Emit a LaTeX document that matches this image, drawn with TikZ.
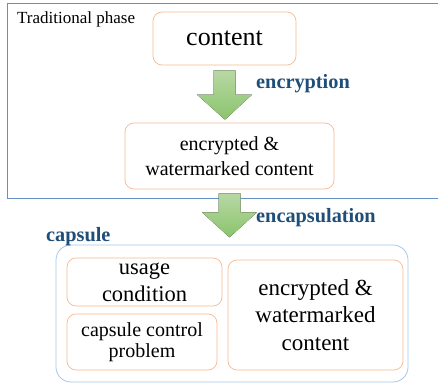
\documentclass[tikz,border=0pt]{standalone}
\usepackage{fontspec}
\setmainfont{Liberation Serif}
\usetikzlibrary{calc}
\definecolor{boxline}{RGB}{246,185,145}
\definecolor{phaseline}{RGB}{100,145,196}
\definecolor{capsline}{RGB}{165,198,232}
\definecolor{labelblue}{RGB}{31,78,121}
\definecolor{arrowtop}{RGB}{184,216,164}
\definecolor{arrowbottom}{RGB}{138,196,108}
\tikzset{
  item/.style = {draw=boxline, line width=0.7pt, rounded corners=9pt, align=center, inner sep=0pt},
  phase/.style = {draw=#1, line width=1pt},
  stage/.style = {color=labelblue, font=\fontsize{#1}{#1}\selectfont\bfseries, inner sep=0pt, anchor=base west},
  arrowfill/.style = {top color=arrowtop, bottom color=arrowbottom, draw=none}
}
\newcommand{\blockarrow}[2]{%
  % #1: a nyil kezdopontja (tetejen, kozepen)
  % #2: a nyil csucsa
  \fill[arrowfill] let \p1=(#1), \p2=(#2) in
    (\x1-11pt,\y1) -- (\x1+11pt,\y1) -- (\x1+11pt,\y2+25pt) -- (\x1+27.5pt,\y2+25pt)
    -- (\x2,\y2) -- (\x1-27.5pt,\y2+25pt) -- (\x1-11pt,\y2+25pt) -- cycle;
}

\begin{document}
\begin{tikzpicture}[x=1pt, y=1pt]

    \useasboundingbox (0,0) rectangle (438,383);

    % Traditional phase
    \draw[phase={phaseline}] (445,379) -- (7,379) -- (7,185) -- (445,185);
    \node[inner sep=0pt, anchor=base west, font=\fontsize{17}{17}\selectfont] (trad) at (17,359) {Traditional phase};

    % Body
    \node[item, minimum width=143, minimum height=53, font=\fontsize{26}{30}\selectfont] (content) at (224.5,344.5) {content};
    \node[item, minimum width=209, minimum height=66, font=\fontsize{20}{24.5}\selectfont] (marked) at (229.5,227) {encrypted \&\\watermarked content};

    % Capsule
    \draw[capsline, line width=0.8pt, rounded corners=15pt] (56,138) rectangle (408,1);
    \node[stage=20.3] (capsule) at (46,142) {capsule};
    \node[item, minimum width=155, minimum height=48, font=\fontsize{22.5}{27}\selectfont] (usage) at (144.5,101) {usage\\condition};
    \node[item, minimum width=150, minimum height=56, font=\fontsize{20}{21.5}\selectfont] (control) at (142,41) {capsule control\\problem};
    \node[item, minimum width=175, minimum height=110, font=\fontsize{23}{27.5}\selectfont] (payload) at (315.5,68) {encrypted \&\\watermarked\\content};

    % Arrows
    \coordinate (a1) at ($(content.south)+(0,-5)$);
    \coordinate (a2) at ($(marked.south)+(0,-4)$);
    \blockarrow{a1}{$(marked.north)+(-4.5,3)$}
    \blockarrow{a2}{$(a2)+(0,-44)$}

    % Labels
    \node[stage=20.3] (encryption) at (256,294) {encryption};
    \node[stage=20.3] (encapsulation) at (256,161) {encapsulation};

\end{tikzpicture}
\end{document}
